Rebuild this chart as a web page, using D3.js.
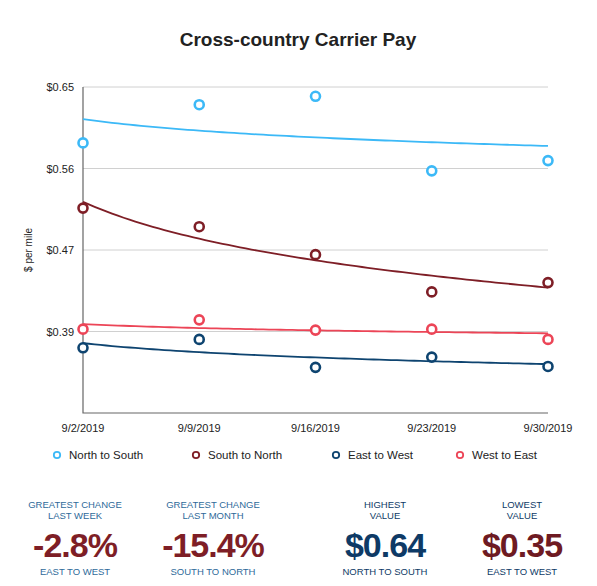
<!DOCTYPE html>
<html><head><meta charset="utf-8">
<script src="https://cdn.jsdelivr.net/npm/d3@7"></script>
<style>
body{margin:0;background:#fff;font-family:Helvetica,"Liberation Sans",Arial,sans-serif;}
</style></head>
<body><svg id="chart" width="597" height="586"></svg>
<script>
const dates = ['9/2/2019', '9/9/2019', '9/16/2019', '9/23/2019', '9/30/2019'];
const seriesNames = ['North to South', 'South to North', 'East to West', 'West to East'];
const seriesColors = ['#3cb9f7', '#7e1e26', '#0e4470', '#ec4557'];
const northToSouth = [0.590, 0.631, 0.640, 0.560, 0.571];
const southToNorth = [0.520, 0.500, 0.470, 0.430, 0.440];
const eastToWest = [0.370, 0.379, 0.349, 0.360, 0.350];
const westToEast = [0.390, 0.400, 0.389, 0.390, 0.379];
const yTicks = [0.3875, 0.475, 0.5625, 0.65];
const kpiTop = ['GREATEST CHANGE|LAST WEEK', 'GREATEST CHANGE|LAST MONTH', 'HIGHEST|VALUE', 'LOWEST|VALUE'];
const kpiValues = ['-2.8%', '-15.4%', '$0.64', '$0.35'];
const kpiBottom = ['EAST TO WEST', 'SOUTH TO NORTH', 'NORTH TO SOUTH', 'EAST TO WEST'];
const kpiColors = ['#7e1e26', '#7e1e26', '#0e3a66', '#6e1a22'];

const allSeries = [northToSouth, southToNorth, eastToWest, westToEast];
const svg = d3.select('#chart');
const pLeft = 83, pRight = 548, pTop = 87, pBottom = 413;

const x = d3.scalePoint().domain(dates).range([pLeft, pRight]);
const y = d3.scaleLinear().domain([0.3, 0.65]).range([pBottom, pTop]);

svg.append('text').attr('x', 298).attr('y', 46).attr('text-anchor', 'middle')
  .style('font-size', '19px').style('font-weight', 'bold').style('fill', '#222')
  .text('Cross-country Carrier Pay');

// gridlines
svg.append('g').selectAll('line').data(yTicks).enter().append('line')
  .attr('x1', pLeft).attr('x2', pRight).attr('y1', d => y(d)).attr('y2', d => y(d))
  .attr('stroke', '#d0d0d0');

svg.append('g').selectAll('text').data(yTicks).enter().append('text')
  .attr('x', pLeft - 9).attr('y', d => y(d) + 4).attr('text-anchor', 'end')
  .style('font-size', '11px').style('fill', '#222')
  .text(d => '$' + d.toFixed(2));

svg.append('path').attr('d', `M${pLeft},${pTop}V${pBottom}H${pRight}`)
  .attr('fill', 'none').attr('stroke', '#666').attr('stroke-width', 1.2);

svg.append('g').selectAll('text').data(dates).enter().append('text')
  .attr('x', d => x(d)).attr('y', pBottom + 19).attr('text-anchor', 'middle')
  .style('font-size', '11px').style('fill', '#222').text(d => d);

svg.append('text').attr('transform', `translate(32,${(pTop + pBottom) / 2}) rotate(-90)`)
  .attr('text-anchor', 'middle').style('font-size', '10px').style('fill', '#222').text('$ per mile');

// log trendlines
function logFit(vals) {
  const xs = vals.map((v, i) => Math.log(i + 1));
  const mx = d3.mean(xs), my = d3.mean(vals);
  const b = d3.sum(xs, (xx, i) => (xx - mx) * (vals[i] - my)) / d3.sum(xs, xx => (xx - mx) ** 2);
  const a = my - b * mx;
  return t => a + b * Math.log(t);
}
const step = x.step();
allSeries.forEach((vals, si) => {
  const f = logFit(vals);
  const pts = d3.range(1, 5.001, 0.05).map(t => [pLeft + (t - 1) * step, y(f(t))]);
  svg.append('path').attr('d', d3.line()(pts)).attr('fill', 'none')
    .attr('stroke', seriesColors[si]).attr('stroke-width', 1.8);
});
allSeries.forEach((vals, si) => {
  svg.append('g').selectAll('circle').data(vals).enter().append('circle')
    .attr('cx', (d, i) => x(dates[i])).attr('cy', d => y(d)).attr('r', 4.5)
    .attr('fill', '#fff').attr('stroke', seriesColors[si]).attr('stroke-width', 2.6);
});

// legend
const legX = [57, 196, 336, 460];
seriesNames.forEach((n, i) => {
  svg.append('circle').attr('cx', legX[i]).attr('cy', 455).attr('r', 3.2)
    .attr('fill', '#fff').attr('stroke', seriesColors[i]).attr('stroke-width', 1.8);
  svg.append('text').attr('x', legX[i] + 12).attr('y', 459)
    .style('font-size', '11.5px').style('fill', '#222').text(n);
});

// KPIs
const kpiX = [75, 213, 385, 522];
kpiX.forEach((cx, i) => {
  const g = svg.append('g').attr('text-anchor', 'middle');
  kpiTop[i].split('|').forEach((s, j) => {
    g.append('text').attr('x', cx).attr('y', 508 + j * 11)
      .style('font-size', '9.5px').style('fill', i < 2 ? '#2e6a9a' : '#0e3a66').text(s);
  });
  g.append('text').attr('x', cx).attr('y', 557)
    .style('font-size', '34px').style('font-weight', 'bold').style('letter-spacing', '-1px')
    .style('fill', kpiColors[i]).text(kpiValues[i]);
  g.append('text').attr('x', cx).attr('y', 575)
    .style('font-size', '9.5px').style('fill', i < 2 ? '#2e6a9a' : '#0e3a66').text(kpiBottom[i]);
});
</script></body></html>
